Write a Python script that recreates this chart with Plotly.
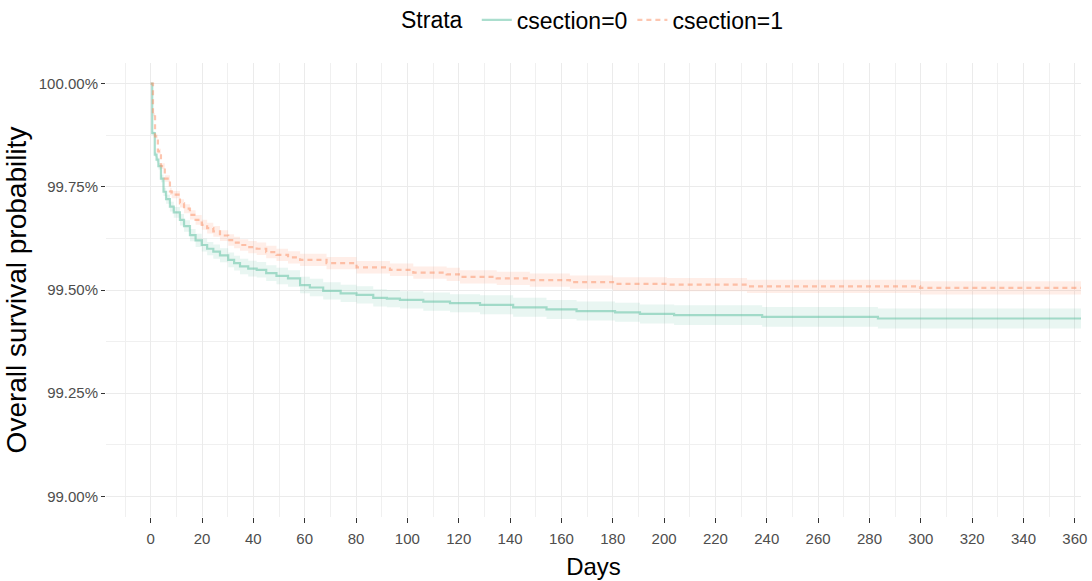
import plotly.graph_objects as go

# Kaplan-Meier estimates (percent surviving) with 95% confidence limits
days_0 = [0, 0.6, 1.6, 2.3, 3, 4, 5, 6, 7.5, 9, 11.4, 13, 15.3, 17.5, 19.9, 22, 24.4, 27,
          30.2, 32.5, 34.8, 38, 41.3, 45, 49, 53.5, 58.2, 62, 67.2, 74, 80.2, 86.7, 92,
          97.1, 106.2, 116.6, 128.3, 141.2, 154.2, 165.9, 180.9, 190.6, 203.9, 238.2,
          283.3, 362.4]
surv_0 = [100, 99.880, 99.828, 99.816, 99.800, 99.770, 99.738, 99.720, 99.702, 99.688,
          99.670, 99.655, 99.633, 99.620, 99.609, 99.600, 99.593, 99.584, 99.573, 99.565,
          99.557, 99.552, 99.549, 99.541, 99.534, 99.528, 99.512, 99.506, 99.498, 99.492,
          99.488, 99.481, 99.479, 99.476, 99.472, 99.468, 99.464, 99.458, 99.453, 99.449,
          99.446, 99.442, 99.439, 99.435, 99.431, 99.431]
lower_0 = [100, 99.876, 99.822, 99.809, 99.792, 99.761, 99.728, 99.709, 99.690, 99.675,
           99.656, 99.641, 99.618, 99.604, 99.593, 99.584, 99.576, 99.567, 99.555, 99.547,
           99.538, 99.533, 99.530, 99.522, 99.514, 99.508, 99.492, 99.485, 99.477, 99.471,
           99.467, 99.460, 99.458, 99.455, 99.450, 99.446, 99.441, 99.435, 99.430, 99.426,
           99.423, 99.419, 99.415, 99.411, 99.407, 99.407]
upper_0 = [100, 99.884, 99.834, 99.823, 99.808, 99.779, 99.748, 99.731, 99.714, 99.701,
           99.684, 99.669, 99.648, 99.636, 99.625, 99.616, 99.610, 99.601, 99.591, 99.583,
           99.576, 99.571, 99.568, 99.560, 99.554, 99.548, 99.532, 99.527, 99.519, 99.513,
           99.509, 99.502, 99.500, 99.497, 99.494, 99.490, 99.487, 99.481, 99.476, 99.472,
           99.469, 99.465, 99.463, 99.459, 99.455, 99.455]

days_1 = [0, 0.9, 1.7, 2.8, 4, 5.5, 7.5, 8.2, 11.4, 13, 15.3, 17.5, 19.9, 22, 24.4, 27,
          30.2, 32.5, 34.8, 38, 41.3, 45, 49, 53.5, 58.2, 68.5, 80.2, 93.2, 102.3, 115.3,
          120.5, 134.8, 147.7, 163.3, 180.1, 201.1, 232.3, 299.7, 362.4]
surv_1 = [100, 99.925, 99.872, 99.836, 99.800, 99.770, 99.739, 99.731, 99.710, 99.697,
          99.682, 99.670, 99.658, 99.650, 99.642, 99.632, 99.621, 99.615, 99.609, 99.604,
          99.600, 99.592, 99.585, 99.579, 99.573, 99.565, 99.555, 99.549, 99.542, 99.538,
          99.532, 99.528, 99.524, 99.519, 99.515, 99.513, 99.509, 99.505, 99.505]
lower_1 = [100, 99.921, 99.867, 99.830, 99.793, 99.762, 99.730, 99.722, 99.700, 99.686,
           99.671, 99.658, 99.646, 99.637, 99.629, 99.619, 99.607, 99.601, 99.595, 99.589,
           99.585, 99.577, 99.570, 99.564, 99.558, 99.550, 99.540, 99.534, 99.527, 99.522,
           99.516, 99.512, 99.508, 99.503, 99.499, 99.497, 99.493, 99.489, 99.489]
upper_1 = [100, 99.929, 99.877, 99.842, 99.807, 99.778, 99.748, 99.740, 99.720, 99.708,
           99.693, 99.682, 99.670, 99.663, 99.655, 99.645, 99.635, 99.629, 99.623, 99.619,
           99.615, 99.607, 99.600, 99.594, 99.588, 99.580, 99.570, 99.564, 99.557, 99.554,
           99.548, 99.544, 99.540, 99.535, 99.531, 99.529, 99.525, 99.521, 99.521]

strata = ["csection=0", "csection=1"]

FONT = "Liberation Sans, Arial, sans-serif"
line_colors = ["rgba(102,194,165,0.55)", "rgba(252,141,98,0.5)"]
band_colors = ["rgba(102,194,165,0.14)", "rgba(252,141,98,0.15)"]
dashes = ["solid", "5px,4px"]

fig = go.Figure()
series = [(days_0, surv_0, lower_0, upper_0), (days_1, surv_1, lower_1, upper_1)]
for i, (t, s, lo, hi) in enumerate(series):
    fig.add_trace(go.Scatter(x=t, y=lo, mode="lines", line=dict(width=0, shape="hv"),
                             showlegend=False, hoverinfo="skip"))
    fig.add_trace(go.Scatter(x=t, y=hi, mode="lines", line=dict(width=0, shape="hv"),
                             fill="tonexty", fillcolor=band_colors[i],
                             showlegend=False, hoverinfo="skip"))
for i, (t, s, lo, hi) in enumerate(series):
    fig.add_trace(go.Scatter(x=t, y=s, mode="lines", name=strata[i],
                             line=dict(color=line_colors[i], width=2.2, shape="hv",
                                       dash=dashes[i])))

grid = "#EBEBEB"
fig.update_layout(
    width=1092, height=581,
    margin=dict(l=106, r=11, t=63, b=64, autoexpand=False),
    paper_bgcolor="white", plot_bgcolor="white",
    font=dict(family=FONT, color="black"),
    legend=dict(
        orientation="h", x=0.50, xanchor="center", y=1.095, yanchor="middle",
        traceorder="normal",
        title=dict(text="Strata ", font=dict(size=23, color="black", family=FONT)),
        font=dict(size=23, color="black", family=FONT),
        itemwidth=30, bgcolor="rgba(0,0,0,0)",
    ),
    xaxis=dict(
        range=[-17.4, 362.4], tickmode="linear", tick0=0, dtick=20,
        showgrid=True, gridcolor=grid, gridwidth=1, zeroline=False, showline=False,
        ticks="outside", ticklen=5, tickcolor="#333333", tickwidth=1,
        ticklabelstandoff=3,
        tickfont=dict(size=15, color="#4D4D4D", family=FONT),
        minor=dict(tick0=0, dtick=10, showgrid=True, gridcolor="#F0F0F0", gridwidth=1),
        title=dict(text="Days", font=dict(size=24, color="black", family=FONT), standoff=12),
    ),
    yaxis=dict(
        range=[98.95, 100.05], tickmode="linear", tick0=99, dtick=0.25,
        tickformat=".2f", ticksuffix="%",
        showgrid=True, gridcolor=grid, gridwidth=1, zeroline=False, showline=False,
        ticks="outside", ticklen=4, tickcolor="#333333", tickwidth=1,
        tickfont=dict(size=15, color="#4D4D4D", family=FONT),
        minor=dict(tick0=99, dtick=0.125, showgrid=True, gridcolor="#F0F0F0", gridwidth=1),
        title=dict(text="Overall survival probability",
                   font=dict(size=28, color="black", family=FONT), standoff=3),
    ),
)

fig.write_html("out.html")
